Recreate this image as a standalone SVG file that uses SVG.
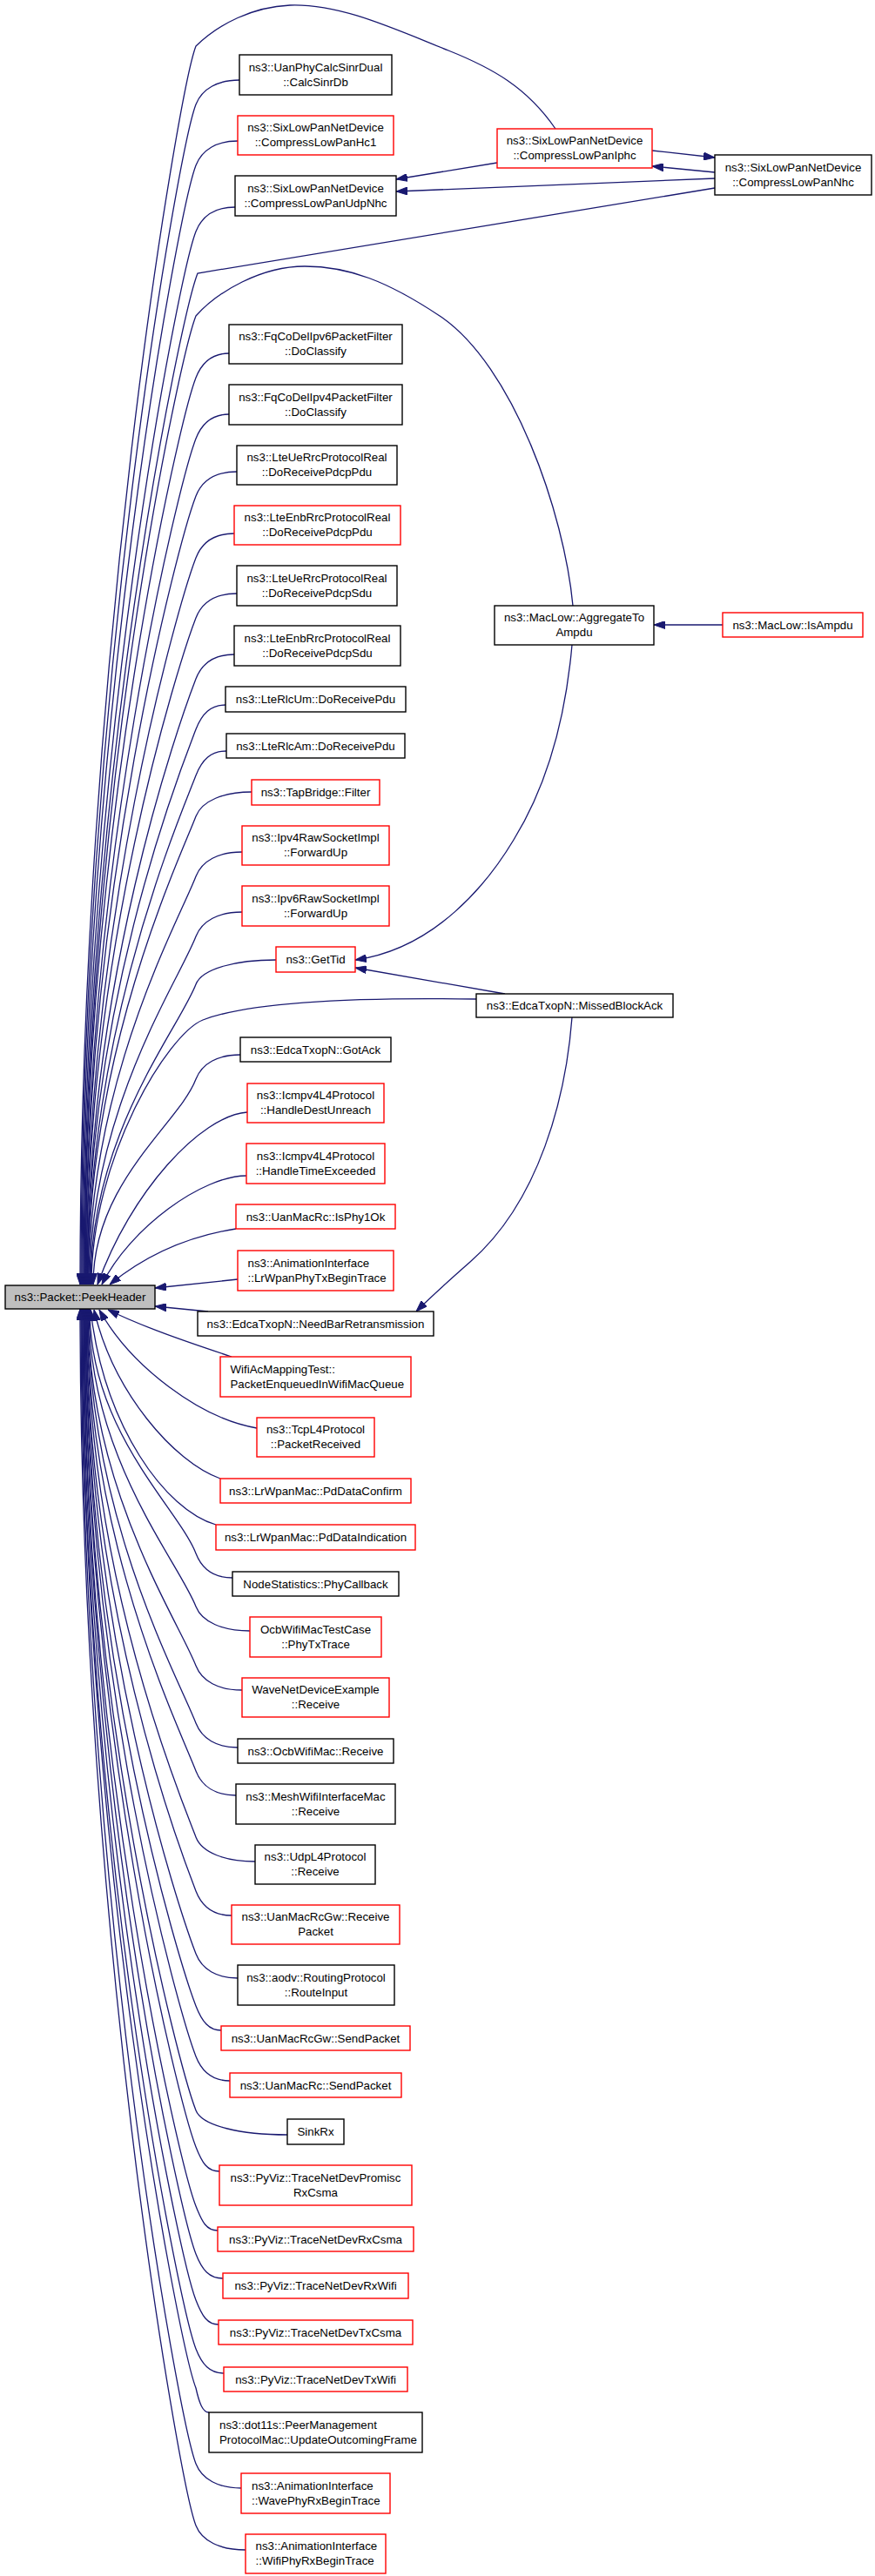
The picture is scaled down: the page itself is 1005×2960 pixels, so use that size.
<svg xmlns="http://www.w3.org/2000/svg" width="1005" height="2960" viewBox="0 0 1005 2960">
<defs>
<style>
.node rect{fill:#ffffff;stroke:#000000;stroke-width:1.4}
.node.red rect{stroke:#ff0000}
.node.cur rect{fill:#bfbfbf}
.node text{font-family:"Liberation Sans",Arial,Helvetica,sans-serif;font-size:13.3px;fill:#000000;text-anchor:middle}
.node text.l{text-anchor:start}
#edges path{fill:none;stroke:#191970;stroke-width:1.3;marker-end:url(#ah)}
</style>
<marker id="ah" viewBox="0 0 13 9" refX="13" refY="4.5" markerWidth="13" markerHeight="9" orient="auto" markerUnits="userSpaceOnUse">
<path d="M0,0 L13,4.5 L0,9 Z" fill="#191970" stroke="#191970" stroke-width="1"/>
</marker>
</defs>
<rect x="0" y="0" width="1005" height="2960" fill="#ffffff"/>
<g id="edges">
<path d="M638,148 C605,100 565,78 515,58 C450,32 390,4 333,6 C290,8 252,27 225,53 C205,105 92,765 92,1476"/>
<path d="M275,92 C250,92 232,102 225,120 C205,172 93,799 93,1476"/>
<path d="M273,162 C249,162 232,172 225,190 C205,242 94,833 94,1476"/>
<path d="M270,238 C247,238 232,248 225,266 C205,318 95,871 95,1476"/>
<path d="M821,216 L227,314 C207,366 96,895 96,1476"/>
<path d="M658,696 C648,590 590,420 505,363 C445,323 400,306 350,306 C300,306 250,335 225,363 C205,415 97,920 97,1476"/>
<path d="M263,406 C244,406 232,416 225,434 C205,486 97,955 97,1476"/>
<path d="M263,476 C244,476 232,486 225,504 C205,556 98,990 98,1476"/>
<path d="M272,542 C248,542 232,552 225,570 C205,622 98,1023 98,1476"/>
<path d="M269,613 C247,613 232,623 225,641 C205,693 99,1058 99,1476"/>
<path d="M272,682 C248,682 232,692 225,710 C205,762 99,1093 99,1476"/>
<path d="M269,752 C247,752 232,762 225,780 C205,832 100,1128 100,1476"/>
<path d="M259,810 C242,810 232,820 225,838 C205,890 100,1157 100,1476"/>
<path d="M260,863 C242,863 232,873 225,891 C205,943 101,1183 101,1476"/>
<path d="M289,910 C257,910 232,920 225,938 C205,990 101,1207 101,1476"/>
<path d="M278,979 C251,979 232,989 225,1007 C205,1059 102,1241 102,1476"/>
<path d="M278,1048 C251,1048 232,1058 225,1076 C205,1128 103,1276 103,1476"/>
<path d="M317,1103 C271,1103 232,1113 225,1131 C205,1183 104,1303 104,1476"/>
<path d="M547,1148 C420,1146 290,1150 233,1172 C193,1188 105,1330 105,1476"/>
<path d="M276,1212 C250,1212 232,1222 225,1240 C205,1292 107,1358 107,1476"/>
<path d="M284,1278 C230,1282 150,1370 112,1476"/>
<path d="M283,1351 C233,1351 150,1410 117,1476"/>
<path d="M271,1412 C220,1420 170,1440 126,1476"/>
<path d="M273,1470 L178,1480"/>
<path d="M239,1507 L178,1501"/>
<path d="M266,1559 C215,1542 165,1525 124,1505"/>
<path d="M295,1641 C230,1630 150,1570 114,1505"/>
<path d="M253,1699 C200,1680 130,1600 108,1505"/>
<path d="M248,1752 C190,1735 120,1640 104,1505"/>
<path d="M267,1813 C246,1813 232,1803 225,1785 C205,1733 103,1645 103,1504"/>
<path d="M287,1874 C256,1874 232,1864 225,1846 C205,1794 102,1675 102,1504"/>
<path d="M278,1942 C251,1942 232,1932 225,1914 C205,1862 101,1709 101,1504"/>
<path d="M273,2008 C249,2008 232,1998 225,1980 C205,1928 101,1742 101,1504"/>
<path d="M271,2063 C248,2063 232,2053 225,2035 C205,1983 100,1770 100,1504"/>
<path d="M293,2139 C259,2139 232,2129 225,2111 C205,2059 100,1808 100,1504"/>
<path d="M266,2201 C245,2201 232,2191 225,2173 C205,2121 99,1839 99,1504"/>
<path d="M273,2273 C249,2273 232,2263 225,2245 C205,2193 99,1875 99,1504"/>
<path d="M254,2333 C240,2333 232,2323 225,2305 C205,2253 98,1905 98,1504"/>
<path d="M264,2391 C244,2391 232,2381 225,2363 C205,2311 98,1934 98,1504"/>
<path d="M330,2453 C277,2453 232,2443 225,2425 C205,2373 97,1965 97,1504"/>
<path d="M252,2495 C238,2495 232,2485 225,2467 C205,2415 97,1986 97,1504"/>
<path d="M250,2563 C237,2563 232,2553 225,2535 C205,2483 96,2020 96,1504"/>
<path d="M256,2618 C240,2618 232,2608 225,2590 C205,2538 96,2047 96,1504"/>
<path d="M251,2671 C238,2671 232,2661 225,2643 C205,2591 95,2074 95,1504"/>
<path d="M257,2727 C241,2727 232,2717 225,2699 C205,2647 94,2102 94,1504"/>
<path d="M240,2772 C233,2772 229,2762 225,2744 C205,2692 94,2124 94,1504"/>
<path d="M277,2859 C251,2859 232,2849 225,2831 C205,2779 93,2168 93,1504"/>
<path d="M282,2930 C253,2930 232,2920 225,2902 C205,2850 92,2203 92,1504"/>
<path d="M571,187 L455,206"/>
<path d="M821,205 L455,220"/>
<path d="M749,173 L821,181"/>
<path d="M821,198 L749,191"/>
<path d="M830,718 L751,718"/>
<path d="M657,741 C650,820 630,900 590,965 C560,1015 500,1090 408,1103"/>
<path d="M580,1142 L408,1112"/>
<path d="M657,1169 C650,1260 620,1380 540,1450 C515,1472 495,1490 478,1507"/>
</g>
<g id="n0" class="node cur"><rect x="6" y="1477" width="172" height="27"/><text x="92" y="1495">ns3::Packet::PeekHeader</text></g>
<g id="r1" class="node red"><rect x="571" y="148" width="178" height="45"/><text x="660" y="166">ns3::SixLowPanNetDevice</text><text x="660" y="183">::CompressLowPanIphc</text></g>
<g id="r2" class="node"><rect x="821" y="178" width="180" height="46"/><text x="911" y="196.5">ns3::SixLowPanNetDevice</text><text x="911" y="213.5">::CompressLowPanNhc</text></g>
<g id="r3" class="node"><rect x="568" y="696" width="183" height="45"/><text x="659.5" y="714">ns3::MacLow::AggregateTo</text><text x="659.5" y="731">Ampdu</text></g>
<g id="r4" class="node red"><rect x="830" y="704" width="161" height="28"/><text x="910.5" y="722.5">ns3::MacLow::IsAmpdu</text></g>
<g id="r5" class="node"><rect x="547" y="1142" width="226" height="27"/><text x="660" y="1160">ns3::EdcaTxopN::MissedBlockAck</text></g>
<g id="l1" class="node"><rect x="275" y="63" width="175" height="46"/><text x="362.5" y="81.5">ns3::UanPhyCalcSinrDual</text><text x="362.5" y="98.5">::CalcSinrDb</text></g>
<g id="l2" class="node red"><rect x="273" y="133" width="179" height="45"/><text x="362.5" y="151">ns3::SixLowPanNetDevice</text><text x="362.5" y="168">::CompressLowPanHc1</text></g>
<g id="l3" class="node"><rect x="270" y="202" width="185" height="46"/><text x="362.5" y="220.5">ns3::SixLowPanNetDevice</text><text x="362.5" y="237.5">::CompressLowPanUdpNhc</text></g>
<g id="l4" class="node"><rect x="263" y="373" width="199" height="45"/><text x="362.5" y="391">ns3::FqCoDelIpv6PacketFilter</text><text x="362.5" y="408">::DoClassify</text></g>
<g id="l5" class="node"><rect x="263" y="442" width="199" height="46"/><text x="362.5" y="460.5">ns3::FqCoDelIpv4PacketFilter</text><text x="362.5" y="477.5">::DoClassify</text></g>
<g id="l6" class="node"><rect x="272" y="512" width="184" height="45"/><text x="364" y="530">ns3::LteUeRrcProtocolReal</text><text x="364" y="547">::DoReceivePdcpPdu</text></g>
<g id="l7" class="node red"><rect x="269" y="581" width="191" height="45"/><text x="364.5" y="599">ns3::LteEnbRrcProtocolReal</text><text x="364.5" y="616">::DoReceivePdcpPdu</text></g>
<g id="l8" class="node"><rect x="272" y="650" width="184" height="46"/><text x="364" y="668.5">ns3::LteUeRrcProtocolReal</text><text x="364" y="685.5">::DoReceivePdcpSdu</text></g>
<g id="l9" class="node"><rect x="269" y="719" width="191" height="46"/><text x="364.5" y="737.5">ns3::LteEnbRrcProtocolReal</text><text x="364.5" y="754.5">::DoReceivePdcpSdu</text></g>
<g id="l10" class="node"><rect x="259" y="789" width="207" height="29"/><text x="362.5" y="808">ns3::LteRlcUm::DoReceivePdu</text></g>
<g id="l11" class="node"><rect x="260" y="843" width="205" height="28"/><text x="362.5" y="861.5">ns3::LteRlcAm::DoReceivePdu</text></g>
<g id="l12" class="node red"><rect x="289" y="896" width="147" height="29"/><text x="362.5" y="915">ns3::TapBridge::Filter</text></g>
<g id="l13" class="node red"><rect x="278" y="949" width="169" height="45"/><text x="362.5" y="967">ns3::Ipv4RawSocketImpl</text><text x="362.5" y="984">::ForwardUp</text></g>
<g id="l14" class="node red"><rect x="278" y="1018" width="169" height="46"/><text x="362.5" y="1036.5">ns3::Ipv6RawSocketImpl</text><text x="362.5" y="1053.5">::ForwardUp</text></g>
<g id="l15" class="node red"><rect x="317" y="1088" width="91" height="29"/><text x="362.5" y="1107">ns3::GetTid</text></g>
<g id="l16" class="node"><rect x="276" y="1192" width="173" height="28"/><text x="362.5" y="1210.5">ns3::EdcaTxopN::GotAck</text></g>
<g id="l17" class="node red"><rect x="284" y="1245" width="157" height="45"/><text x="362.5" y="1263">ns3::Icmpv4L4Protocol</text><text x="362.5" y="1280">::HandleDestUnreach</text></g>
<g id="l18" class="node red"><rect x="283" y="1314" width="159" height="46"/><text x="362.5" y="1332.5">ns3::Icmpv4L4Protocol</text><text x="362.5" y="1349.5">::HandleTimeExceeded</text></g>
<g id="l19" class="node red"><rect x="271" y="1384" width="183" height="28"/><text x="362.5" y="1402.5">ns3::UanMacRc::IsPhy1Ok</text></g>
<g id="l20" class="node red"><rect x="273" y="1437" width="179" height="46"/><text class="l" x="284.5" y="1455.5">ns3::AnimationInterface</text><text class="l" x="284.5" y="1472.5">::LrWpanPhyTxBeginTrace</text></g>
<g id="l21" class="node"><rect x="227" y="1507" width="271" height="28"/><text x="362.5" y="1525.5">ns3::EdcaTxopN::NeedBarRetransmission</text></g>
<g id="l22" class="node red"><rect x="253" y="1559" width="219" height="46"/><text class="l" x="264.5" y="1577.5">WifiAcMappingTest::</text><text class="l" x="264.5" y="1594.5">PacketEnqueuedInWifiMacQueue</text></g>
<g id="l23" class="node red"><rect x="295" y="1629" width="135" height="45"/><text x="362.5" y="1647">ns3::TcpL4Protocol</text><text x="362.5" y="1664">::PacketReceived</text></g>
<g id="l24" class="node red"><rect x="253" y="1699" width="219" height="28"/><text x="362.5" y="1717.5">ns3::LrWpanMac::PdDataConfirm</text></g>
<g id="l25" class="node red"><rect x="248" y="1752" width="229" height="29"/><text x="362.5" y="1771">ns3::LrWpanMac::PdDataIndication</text></g>
<g id="l26" class="node"><rect x="267" y="1806" width="191" height="28"/><text x="362.5" y="1824.5">NodeStatistics::PhyCallback</text></g>
<g id="l27" class="node red"><rect x="287" y="1858" width="151" height="46"/><text x="362.5" y="1876.5">OcbWifiMacTestCase</text><text x="362.5" y="1893.5">::PhyTxTrace</text></g>
<g id="l28" class="node red"><rect x="278" y="1928" width="169" height="45"/><text x="362.5" y="1946">WaveNetDeviceExample</text><text x="362.5" y="1963">::Receive</text></g>
<g id="l29" class="node"><rect x="273" y="1998" width="179" height="28"/><text x="362.5" y="2016.5">ns3::OcbWifiMac::Receive</text></g>
<g id="l30" class="node"><rect x="271" y="2050" width="183" height="46"/><text x="362.5" y="2068.5">ns3::MeshWifiInterfaceMac</text><text x="362.5" y="2085.5">::Receive</text></g>
<g id="l31" class="node"><rect x="293" y="2120" width="138" height="45"/><text x="362" y="2138">ns3::UdpL4Protocol</text><text x="362" y="2155">::Receive</text></g>
<g id="l32" class="node red"><rect x="266" y="2189" width="193" height="45"/><text x="362.5" y="2207">ns3::UanMacRcGw::Receive</text><text x="362.5" y="2224">Packet</text></g>
<g id="l33" class="node"><rect x="273" y="2258" width="180" height="46"/><text x="363" y="2276.5">ns3::aodv::RoutingProtocol</text><text x="363" y="2293.5">::RouteInput</text></g>
<g id="l34" class="node red"><rect x="254" y="2328" width="217" height="28"/><text x="362.5" y="2346.5">ns3::UanMacRcGw::SendPacket</text></g>
<g id="l35" class="node red"><rect x="264" y="2382" width="197" height="28"/><text x="362.5" y="2400.5">ns3::UanMacRc::SendPacket</text></g>
<g id="l36" class="node"><rect x="330" y="2435" width="65" height="29"/><text x="362.5" y="2454">SinkRx</text></g>
<g id="l37" class="node red"><rect x="252" y="2488" width="221" height="46"/><text x="362.5" y="2506.5">ns3::PyViz::TraceNetDevPromisc</text><text x="362.5" y="2523.5">RxCsma</text></g>
<g id="l38" class="node red"><rect x="250" y="2559" width="225" height="28"/><text x="362.5" y="2577.5">ns3::PyViz::TraceNetDevRxCsma</text></g>
<g id="l39" class="node red"><rect x="256" y="2612" width="213" height="29"/><text x="362.5" y="2631">ns3::PyViz::TraceNetDevRxWifi</text></g>
<g id="l40" class="node red"><rect x="251" y="2666" width="223" height="28"/><text x="362.5" y="2684.5">ns3::PyViz::TraceNetDevTxCsma</text></g>
<g id="l41" class="node red"><rect x="257" y="2720" width="211" height="28"/><text x="362.5" y="2738.5">ns3::PyViz::TraceNetDevTxWifi</text></g>
<g id="l42" class="node"><rect x="240" y="2772" width="245" height="46"/><text class="l" x="252" y="2790.5">ns3::dot11s::PeerManagement</text><text class="l" x="252" y="2807.5">ProtocolMac::UpdateOutcomingFrame</text></g>
<g id="l43" class="node red"><rect x="277" y="2842" width="171" height="46"/><text class="l" x="289" y="2860.5">ns3::AnimationInterface</text><text class="l" x="289" y="2877.5">::WavePhyRxBeginTrace</text></g>
<g id="l44" class="node red"><rect x="282" y="2912" width="161" height="45"/><text class="l" x="293.5" y="2930">ns3::AnimationInterface</text><text class="l" x="293.5" y="2947">::WifiPhyRxBeginTrace</text></g>
</svg>
